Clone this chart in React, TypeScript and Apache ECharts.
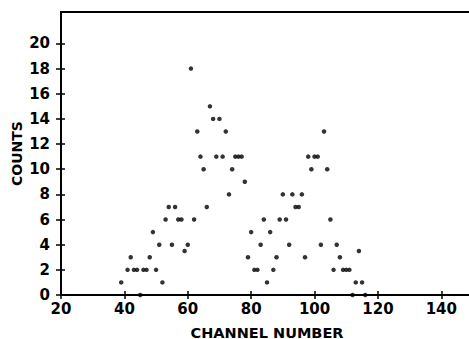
import React, { useEffect, useRef } from "react";
import * as echarts from "echarts";

const channels = [
  39, 41, 42, 43, 44, 45, 46, 47, 48, 49, 50, 51, 52, 53, 54, 55, 56, 57, 58, 59,
  60, 61, 62, 63, 64, 65, 66, 67, 68, 69, 70, 71, 72, 73, 74, 75, 76, 77, 78, 79,
  80, 81, 82, 83, 84, 85, 86, 87, 88, 89, 90, 91, 92, 93, 94, 95, 96, 97, 98, 99,
  100, 101, 102, 103, 104, 105, 106, 107, 108, 109, 110, 111, 112, 113, 114, 115, 116,
];
const counts = [
  1, 2, 3, 2, 2, 0, 2, 2, 3, 5, 2, 4, 1, 6, 7, 4, 7, 6, 6, 3.5,
  4, 18, 6, 13, 11, 10, 7, 15, 14, 11, 14, 11, 13, 8, 10, 11, 11, 11, 9, 3,
  5, 2, 2, 4, 6, 1, 5, 2, 3, 6, 8, 6, 4, 8, 7, 7, 8, 3, 11, 10,
  11, 11, 4, 13, 10, 6, 2, 4, 3, 2, 2, 2, 0, 1, 3.5, 1, 0,
];
const xTicks = [20, 40, 60, 80, 100, 120, 140];
const yTicks = [0, 2, 4, 6, 8, 10, 12, 14, 16, 18, 20];

const FONT = "DejaVu Sans";

export default function App() {
  const ref = useRef<HTMLDivElement>(null);
  useEffect(() => {
    if (!ref.current) return;
    const chart = echarts.init(ref.current, null, { renderer: "svg" });
    const line = { show: true, lineStyle: { color: "#000", width: 2 } };
    chart.setOption({
      animation: false,
      backgroundColor: "#fff",
      grid: {
        left: 61,
        top: 12,
        right: -4,
        bottom: 44,
        containLabel: false,
        outerBoundsMode: "none",
        show: true,
        borderColor: "#000",
        borderWidth: 2,
        backgroundColor: "transparent",
      },
      xAxis: [
        {
          type: "value",
          position: "bottom",
          min: 20,
          max: 150,
          interval: 20,
          axisLine: line,
          axisTick: { show: true, inside: false, length: 4, customValues: xTicks, lineStyle: { color: "#000", width: 1.5 } },
          axisLabel: {
            customValues: xTicks,
            color: "#000",
            fontFamily: FONT,
            fontSize: 15,
            fontWeight: "bold",
            margin: 6,
          },
          splitLine: { show: false },
          name: "CHANNEL NUMBER",
          nameLocation: "middle",
          nameGap: 30,
          nameMoveOverlap: false,
          nameTextStyle: { color: "#000", fontFamily: FONT, fontSize: 14.5, fontWeight: "bold" },
        },
        {
          type: "value",
          position: "bottom",
          min: 20,
          max: 150,
          interval: 20,
          axisLine: line,
          axisTick: { show: true, inside: true, length: 4, customValues: xTicks, lineStyle: { color: "#000", width: 1.5 } },
          axisLabel: { show: false },
          splitLine: { show: false },
        },
      ],
      yAxis: [
        {
          type: "value",
          position: "left",
          min: 0,
          max: 22.5,
          interval: 2,
          axisLine: line,
          axisTick: { show: true, inside: false, length: 5, customValues: yTicks, lineStyle: { color: "#000", width: 1.5 } },
          axisLabel: {
            customValues: yTicks,
            color: "#000",
            fontFamily: FONT,
            fontSize: 15,
            fontWeight: "bold",
            margin: 11,
          },
          splitLine: { show: false },
          name: "COUNTS",
          nameLocation: "middle",
          nameGap: 37,
          nameMoveOverlap: false,
          nameTextStyle: { color: "#000", fontFamily: FONT, fontSize: 14, fontWeight: "bold" },
        },
        {
          type: "value",
          position: "left",
          min: 0,
          max: 22.5,
          interval: 2,
          axisLine: line,
          axisTick: { show: true, inside: true, length: 4, customValues: yTicks, lineStyle: { color: "#000", width: 1.5 } },
          axisLabel: { show: false },
          splitLine: { show: false },
        },
      ],
      series: [
        {
          type: "scatter",
          xAxisIndex: 0,
          yAxisIndex: 0,
          symbol: "circle",
          symbolSize: 4.5,
          itemStyle: { color: "#000" },
          data: channels.map((c, i) => [c, counts[i]]),
        },
      ],
    });
    return () => chart.dispose();
  }, []);
  return (
    <div
      ref={ref}
      style={{ position: "fixed", left: 0, top: 0, width: 469, height: 339 }}
    />
  );
}
